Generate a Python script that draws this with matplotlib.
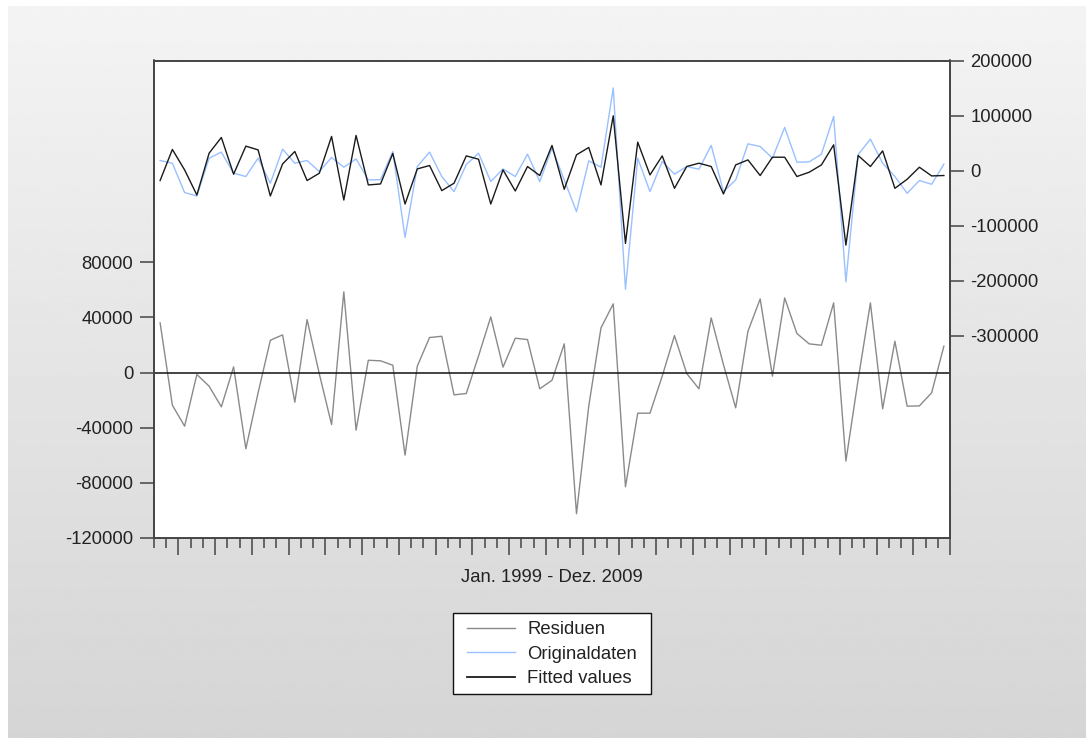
import matplotlib
matplotlib.use("Agg")
import matplotlib.pyplot as plt
import numpy as np
from matplotlib.lines import Line2D
from matplotlib.patches import Rectangle

plt.rcParams['font.family'] = ['Liberation Sans', 'DejaVu Sans']

residuen = [36000, -23700, -38900, -1400, -9900, -24900, 4100, -55300, -14700, 23400,
            27300, -21500, 38400, -1000, -37700, 58500, -41800, 8900, 8500, 5300,
            -59900, 4600, 25400, 26300, -16200, -15200, 12000, 40300, 3900, 24900,
            23900, -11800, -5600, 20800, -102400, -24400, 32400, 49800, -82800, -29500,
            -29500, -2600, 26800, -700, -11800, 39600, 5800, -25600, 29900, 53400,
            -2600, 54100, 28300, 20800, 19800, 50500, -64200, -5100, 50500, -26300,
            22700, -24400, -24200, -14700, 19100]

originaldaten = [18200, 13300, -40100, -46300, 22400, 33400, -4900, -10900, 22400, -23100,
                 38800, 13300, 18200, -1800, 23700, 6000, 21100, -17100, -16500, 34600,
                 -121600, 7300, 33400, -10900, -38300, 10800, 31500, -20000, 2900, -10900,
                 29700, -20000, 40600, -17100, -74700, 17500, 6000, 150000, -215800, 22400,
                 -38300, 16400, -6700, 7300, 2400, 45600, -38300, -17100, 48500, 43700,
                 22400, 78400, 15100, 15800, 29700, 98400, -202300, 29000, 57000, 13300,
                 -10900, -41400, -18200, -25000, 11500]

fitted = [-18200, 38300, 1100, -44500, 31500, 60100, -6700, 44300, 37500, -46300,
          12000, 34600, -18200, -4900, 62000, -53600, 63800, -26200, -24400, 31000,
          -60900, 2900, 9100, -36500, -23100, 26600, 20600, -60900, 1100, -37200,
          7300, -9100, 45600, -34100, 28500, 41900, -26200, 99500, -132500, 51600,
          -8000, 26600, -32300, 7300, 13300, 7300, -42600, 10200, 19300, -9100,
          24200, 24200, -10900, -3100, 10200, 46700, -135600, 27300, 7300, 35700,
          -32300, -15900, 6000, -9800, -9100]

left_ticks = [-120000, -80000, -40000, 0, 40000, 80000]
right_ticks = [-300000, -200000, -100000, 0, 100000, 200000]
x_label = "Jan. 1999 - Dez. 2009"
legend_labels = ["Residuen", "Originaldaten", "Fitted values"]

W, H = 1086, 738
fig = plt.figure(figsize=(W / 100, H / 100), dpi=100)
fig.patch.set_facecolor('white')

# grey gradient background
bg = fig.add_axes([8 / W, 0, 1 - 8 / W, 1 - 6 / H], zorder=-10)
grad = np.linspace(0.955, 0.835, 256).reshape(-1, 1)
bg.imshow(grad, aspect='auto', cmap='gray', vmin=0, vmax=1, extent=[0, 1, 0, 1])
bg.axis('off')

left, right, top, bottom = 154, 950, 60.5, 538
ax = fig.add_axes([left / W, 1 - bottom / H, (right - left) / W, (bottom - top) / H])
ax.set_facecolor('white')
ax2 = ax.twinx()

x = np.arange(1, len(residuen) + 1)
spine_col = '#444444'
txt_col = '#222222'

ax.plot(x, residuen, color='#8a8a8a', lw=1.0)
ax.axhline(0, color='#111111', lw=1.1)
ax2.plot(x, originaldaten, color='#99c0ff', lw=1.0)
ax2.plot(x, fitted, color='#1a1a1a', lw=1.0)

ax.set_xlim(0.5, len(x) + 0.5)
ax.set_ylim(-120000, 226300)
ax2.set_ylim(-668000, 200000)
ax.set_yticks(left_ticks)
ax.set_yticklabels([str(v) for v in left_ticks])
ax2.set_yticks(right_ticks)
ax2.set_yticklabels([str(v) for v in right_ticks])

bounds = np.arange(0.5, len(x) + 1, 1.0)
major = [b for b in bounds if (b - 2.5) % 3 == 0]
minor = [b for b in bounds if (b - 2.5) % 3 != 0]
ax.set_xticks(major)
ax.set_xticks(minor, minor=True)
ax.set_xticklabels([])

ax.tick_params(axis='x', which='major', direction='out', length=12, width=1.1, color=spine_col)
ax.tick_params(axis='x', which='minor', direction='out', length=7, width=1.1, color=spine_col)
ax.tick_params(axis='y', direction='out', length=10, width=1.1, color=spine_col,
               labelsize=13.3, labelcolor=txt_col, pad=4.8)
ax2.tick_params(axis='y', direction='out', length=10, width=1.1, color=spine_col,
                labelsize=13.3, labelcolor=txt_col, pad=4.8)

for a in (ax, ax2):
    for s in a.spines.values():
        s.set_color(spine_col)
        s.set_linewidth(1.2)

fig.text(552 / W, 1 - 577 / H, x_label, ha='center', va='center',
         fontsize=13.3, color=txt_col)

# legend box drawn separately so its padding matches the reference
fig.patches.append(Rectangle((453 / W, 1 - 694 / H), 198 / W, 81 / H,
                             transform=fig.transFigure, facecolor='white',
                             edgecolor='#111111', lw=1.0, zorder=1))
handles = [Line2D([], [], color='#8a8a8a', lw=1.0),
           Line2D([], [], color='#99c0ff', lw=1.0),
           Line2D([], [], color='#1a1a1a', lw=1.3)]
leg = fig.legend(handles, legend_labels, loc='upper left',
                 bbox_to_anchor=(467 / W, 1 - 621.5 / H), frameon=False,
                 fontsize=13.3, handlelength=2.6, handletextpad=0.65,
                 labelspacing=0.4, borderpad=0, borderaxespad=0)
leg.set_zorder(2)
for t in leg.get_texts():
    t.set_color(txt_col)

fig.savefig('out.png', dpi=100)
